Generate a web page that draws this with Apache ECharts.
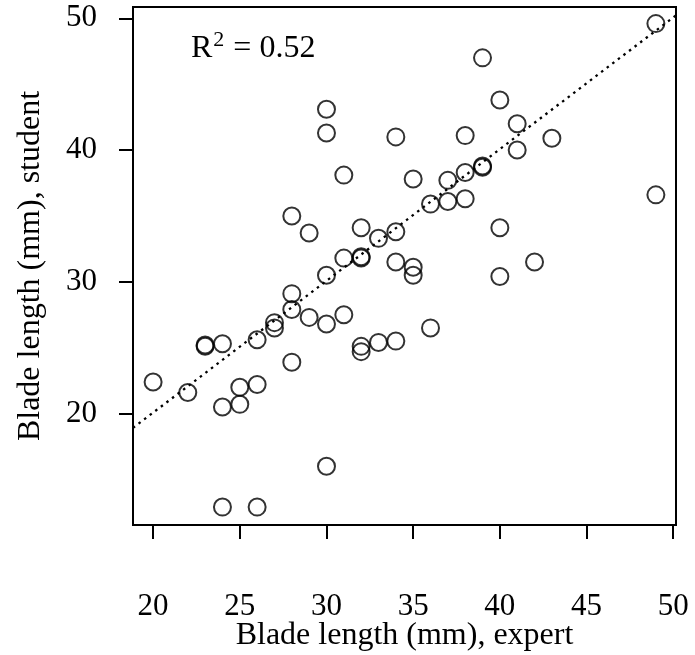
<!DOCTYPE html>
<html>
<head>
<meta charset="utf-8">
<script src="https://cdn.jsdelivr.net/npm/echarts@6/dist/echarts.min.js"></script>
<style>
  html, body { margin: 0; padding: 0; background: #fff; }
  #chart { width: 695px; height: 655px; }
</style>
</head>
<body>
<div id="chart"></div>
<script>
// Blade length measured by the expert (x) and by the student (y), in mm
const expertLength = [
  20, 22, 23, 23, 24, 24, 24, 25, 25, 26, 26, 26, 27, 27,
  28, 28, 28, 28, 29, 29, 30, 30, 30, 30, 30, 31, 31, 31,
  32, 32, 32, 32, 32, 33, 33, 34, 34, 34, 34, 35, 35, 35,
  36, 36, 37, 37, 38, 38, 38, 39, 39, 39, 40, 40, 40, 41, 41,
  42, 43, 49, 49
];
const studentLength = [
  22.4, 21.6, 25.1, 25.2, 25.3, 20.5, 12.9, 22.0, 20.7, 25.6, 22.2, 12.9, 26.9, 26.5,
  35.0, 29.1, 27.9, 23.9, 33.7, 27.3, 43.1, 41.3, 30.5, 26.8, 16.0, 38.1, 31.8, 27.5,
  34.1, 31.8, 31.9, 25.1, 24.7, 33.3, 25.4, 41.0, 33.8, 31.5, 25.5, 37.8, 31.1, 30.5,
  35.9, 26.5, 37.7, 36.1, 41.1, 38.3, 36.3, 47.0, 38.8, 38.7, 43.8, 34.1, 30.4, 42.0, 40.0,
  31.5, 40.9, 49.6, 36.6
];

// Fitted line, evaluated at the two ends of the x range
const fitX = [18.84, 50.16];
const fitY = [18.91, 50.23];

// Axis ranges and tick labels
const xRange = [18.84, 50.16];
const yRange = [11.54, 50.86];
const xTicks = [20, 25, 30, 35, 40, 45, 50];
const yTicks = [20, 30, 40, 50];

const rSquared = '0.52';
const xTitle = 'Blade length (mm), expert';
const yTitle = 'Blade length (mm), student';

const serif = '"Liberation Serif", "DejaVu Serif", serif';

const points = expertLength.map((x, i) => [x, studentLength[i]]);
const fitLine = fitX.map((x, i) => [x, fitY[i]]);

const chart = echarts.init(document.getElementById('chart'), null, { renderer: 'canvas' });

const axisCommon = {
  type: 'value',
  splitLine: { show: false },
  axisLine: { show: true, onZero: false, lineStyle: { color: '#000', width: 2 } },
  axisTick: { show: true, inside: false, length: 14, lineStyle: { color: '#000', width: 2 } },
  nameLocation: 'middle',
  nameMoveOverlap: false,
  nameTextStyle: { fontFamily: serif, fontSize: 32, color: '#000' }
};

chart.setOption({
  animation: false,
  backgroundColor: '#fff',
  grid: {
    left: 133, right: 19, top: 7, bottom: 130,
    outerBoundsMode: 'none',
    containLabel: false,
    show: true, borderColor: '#000', borderWidth: 2, backgroundColor: 'transparent'
  },
  xAxis: Object.assign({}, axisCommon, {
    min: xRange[0], max: xRange[1],
    name: xTitle, nameGap: 95,
    axisTick: Object.assign({}, axisCommon.axisTick, { customValues: xTicks }),
    axisLabel: {
      customValues: xTicks, margin: 66,
      fontFamily: serif, fontSize: 31, color: '#000'
    }
  }),
  yAxis: Object.assign({}, axisCommon, {
    min: yRange[0], max: yRange[1],
    name: yTitle, nameGap: 86,
    axisTick: Object.assign({}, axisCommon.axisTick, { customValues: yTicks }),
    axisLabel: {
      customValues: yTicks, margin: 36,
      fontFamily: serif, fontSize: 31, color: '#000'
    }
  }),
  graphic: [{
    type: 'text',
    left: 191,
    top: 29,
    style: {
      text: '{a|R}{s|2}{a| = ' + rSquared + '}',
      rich: {
        a: { fontFamily: serif, fontSize: 32, color: '#000', lineHeight: 36, verticalAlign: 'bottom' },
        s: { fontFamily: serif, fontSize: 22, color: '#000', lineHeight: 36, verticalAlign: 'top', padding: [0, 1, 16, 1] }
      }
    }
  }],
  series: [
    {
      type: 'scatter',
      data: points,
      symbol: 'circle',
      symbolSize: 17,
      itemStyle: { color: 'rgba(0,0,0,0)', borderColor: '#000', borderWidth: 2 },
      emphasis: { disabled: true },
      z: 3
    },
    {
      type: 'line',
      data: fitLine,
      showSymbol: false,
      symbol: 'none',
      lineStyle: { color: '#000', width: 2.3, type: [2.5, 4.5] },
      emphasis: { disabled: true },
      z: 2
    }
  ]
});
</script>
</body>
</html>
